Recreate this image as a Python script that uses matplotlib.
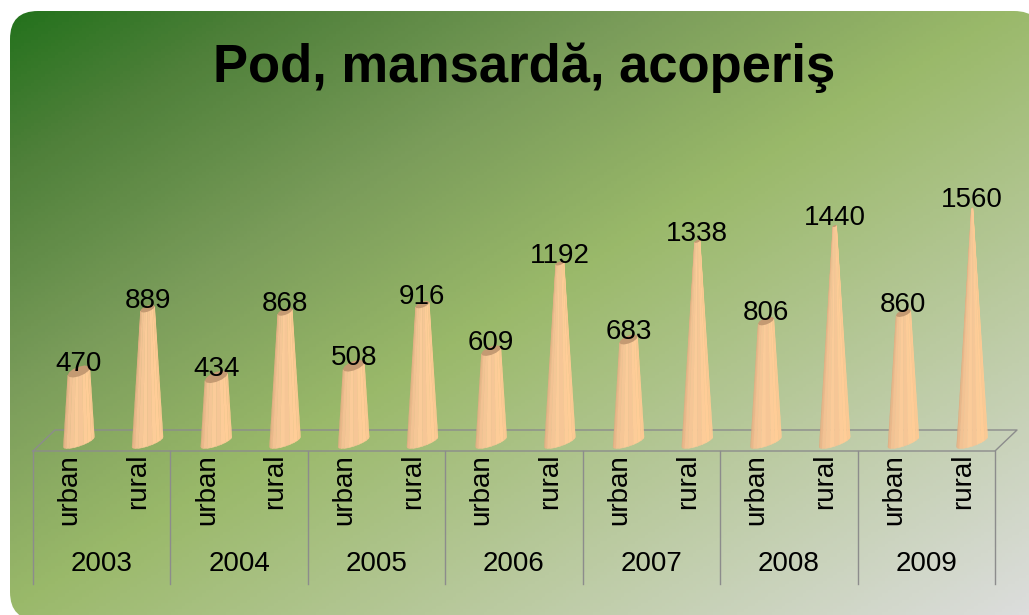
import numpy as np
import matplotlib
matplotlib.use("Agg")
import matplotlib.pyplot as plt
from matplotlib.colors import LinearSegmentedColormap
from matplotlib.patches import FancyBboxPatch
from matplotlib.transforms import blended_transform_factory

plt.rcParams["font.family"] = ["Liberation Sans", "DejaVu Sans"]

title = "Pod, mansardă, acoperiş"
years = ["2003", "2004", "2005", "2006", "2007", "2008", "2009"]
areas = ["urban", "rural"]
urban = [470, 434, 508, 609, 683, 806, 860]
rural = [889, 868, 916, 1192, 1338, 1440, 1560]

W, H = 1029, 615
fig = plt.figure(figsize=(W / 100, H / 100), dpi=100, facecolor="white")

# background panel, diagonal gradient clipped to a rounded box
bg = fig.add_axes([0, 0, 1, 1])
bg.set_xlim(0, W)
bg.set_ylim(H, 0)
bg.axis("off")
cmap = LinearSegmentedColormap.from_list(
    "panel", [(0, "#1f7019"), (0.14, "#4f803a"), (0.32, "#7a9c5a"),
              (0.5, "#9ab96a"), (0.75, "#bccba3"), (1, "#dcdddc")])
gx, gy = np.meshgrid(np.linspace(0, 1, 300), np.linspace(0, 1, 200))
im = bg.imshow((gx + gy) / 2, extent=[0, W, H, 0], cmap=cmap,
               vmin=0, vmax=1, aspect="auto", zorder=0)
box = FancyBboxPatch((10, 11), 1032, 609,
                     boxstyle="round,pad=0,rounding_size=28",
                     fc="none", ec="none", transform=bg.transData)
bg.add_patch(box)
im.set_clip_path(box)
bg.text(524.5, 68, title, fontsize=37.9, fontweight="bold", color="black",
        ha="center", va="center")

# chart axes: 14 categories, zero at y=442px, 1600 at y=202px
left, right, base_px, top_px = 33, 995, 442, 202
ax = fig.add_axes([left / W, 1 - base_px / H, (right - left) / W,
                   (base_px - top_px) / H])
ax.patch.set_alpha(0)
ax.set_xlim(0, 14)
ax.set_ylim(0, 1600)
for s in ax.spines.values():
    s.set_visible(False)
ax.set_yticks([])

PX_X = 14 / (right - left)
PX_Y = 1600 / (base_px - top_px)

values = [v for pair in zip(urban, rural) for v in pair]
ticks = np.arange(14) + 0.5
ax.set_xticks(ticks + 2 * PX_X)
ax.set_xticklabels(areas * 7, rotation=90, fontsize=20, color="black")
ax.tick_params(axis="x", length=0, pad=8.5)

# floor and group separators
line = dict(color="#8c8c8c", lw=1, clip_on=False, zorder=1)
fy, by = -9 * PX_Y, 12 * PX_Y
dx = 22 * PX_X
ax.plot([0, 14, 14 + dx, dx, 0], [fy, fy, by, by, fy], **line)
trans = blended_transform_factory(ax.transData, fig.transFigure)
for k in range(8):
    ax.plot([2 * k, 2 * k], [1 - 451 / H, 1 - 584 / H], transform=trans, **line)
for k, yr in enumerate(years):
    ax.text(2 * k + 1, 1 - 564 / H, yr, transform=trans, fontsize=20,
            ha="center", va="center", color="black")

# facet colours of the cone, left to right
facets = ["#dfae82", "#e9b78a", "#f2c293", "#f5c696", "#fbcb99", "#f6c696",
          "#fdcc98", "#ffcd97", "#fbc994", "#ffcb94"]
cap_col = "#c49a72"


def ring(cx, cy, w, t, minor=0.14):
    # sheared ellipse, px offsets converted to data units
    x = cx + w / 2 * np.cos(t) * PX_X
    y = cy + (w * 0.16 * np.cos(t) + w * minor * np.sin(t)) * PX_Y
    return x, y


for i, v in enumerate(values):
    cx = ticks[i] + 11.5 * PX_X
    w0, w1 = 31, 31 * (1 - v / 1640)
    t = np.linspace(np.pi, 2 * np.pi, len(facets) + 1)
    bx, by_ = ring(cx, 0, w0, t)
    tx, ty = ring(cx, v, w1, t)
    for j, c in enumerate(facets):
        ax.fill([bx[j], bx[j + 1], tx[j + 1], tx[j]],
                [by_[j], by_[j + 1], ty[j + 1], ty[j]],
                fc=c, ec=c, lw=0.3, clip_on=False, zorder=3)
    a = np.linspace(0, 2 * np.pi, 13)
    ax.fill(*ring(cx, v, w1, a, minor=0.22), fc=cap_col, ec="none",
            clip_on=False, zorder=3.1)
    ax.annotate(str(v), (cx, v), xytext=(0, 5.5), textcoords="offset points",
                fontsize=20, ha="center", va="center", color="black",
                annotation_clip=False, zorder=5)

fig.savefig("out.png", dpi=100)
